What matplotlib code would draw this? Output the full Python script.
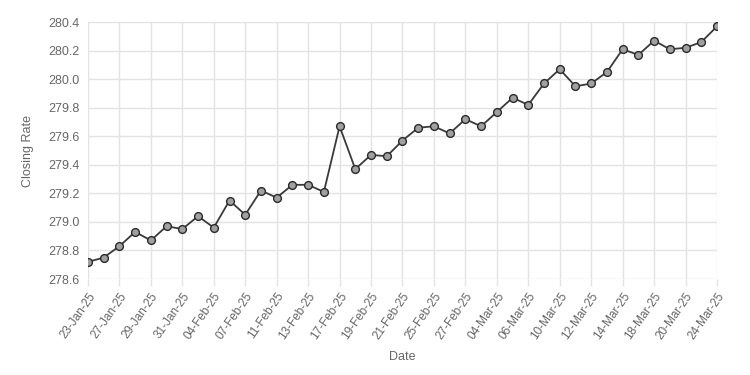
import matplotlib.pyplot as plt

dates = ['23-Jan-25', '24-Jan-25', '27-Jan-25', '28-Jan-25', '29-Jan-25', '30-Jan-25',
         '31-Jan-25', '03-Feb-25', '04-Feb-25', '06-Feb-25', '07-Feb-25', '10-Feb-25',
         '11-Feb-25', '12-Feb-25', '13-Feb-25', '14-Feb-25', '17-Feb-25', '18-Feb-25',
         '19-Feb-25', '20-Feb-25', '21-Feb-25', '24-Feb-25', '25-Feb-25', '26-Feb-25',
         '27-Feb-25', '28-Feb-25', '04-Mar-25', '05-Mar-25', '06-Mar-25', '07-Mar-25',
         '10-Mar-25', '11-Mar-25', '12-Mar-25', '13-Mar-25', '14-Mar-25', '17-Mar-25',
         '18-Mar-25', '19-Mar-25', '20-Mar-25', '21-Mar-25', '24-Mar-25']
closing = [278.72, 278.75, 278.83, 278.93, 278.87, 278.97, 278.95, 279.04, 278.96, 279.15,
           279.05, 279.22, 279.17, 279.26, 279.26, 279.21, 279.67, 279.37, 279.47, 279.46,
           279.57, 279.66, 279.67, 279.62, 279.72, 279.67, 279.77, 279.87, 279.82, 279.97,
           280.07, 279.95, 279.97, 280.05, 280.21, 280.17, 280.27, 280.21, 280.22, 280.26,
           280.37]
y_ticks = [278.6, 278.8, 279.0, 279.2, 279.4, 279.6, 279.8, 280.0, 280.2, 280.4]

plt.rcParams['font.family'] = ['Liberation Sans', 'DejaVu Sans']
txt = '#666666'
grid = '#e3e3e3'

fig = plt.figure(figsize=(7.5, 3.75), dpi=100)
ax = fig.add_axes([0.1173, 0.256, 0.8387, 0.685])

x = list(range(len(dates)))
ax.plot(x, closing, color='#3a3a3a', lw=1.3, marker='o', markersize=5.6,
        markerfacecolor='#a0a0a0', markeredgecolor='#2a2a2a', markeredgewidth=1.0, zorder=3)

ax.set_xlim(0, len(dates) - 1)
ax.set_ylim(278.6, 280.4)
ax.set_yticks(y_ticks)
ax.set_yticklabels(['%.1f' % v for v in y_ticks])
ax.set_xticks(x[::2])
ax.set_xticklabels(dates[::2], rotation=55, ha='right', rotation_mode='anchor')

ax.grid(True, color=grid, lw=1)
for s in ax.spines.values():
    s.set_visible(False)
ax.tick_params(axis='x', colors=grid, labelcolor=txt, labelsize=8.5, length=5, width=1, pad=3)
ax.tick_params(axis='y', colors=grid, labelcolor=txt, labelsize=9, length=0, pad=6)

ax.set_xlabel('Date', color=txt, fontsize=9, labelpad=7)
ax.set_ylabel('Closing Rate', color=txt, fontsize=9, labelpad=10)

fig.savefig('out.png', dpi=100, facecolor='white')
